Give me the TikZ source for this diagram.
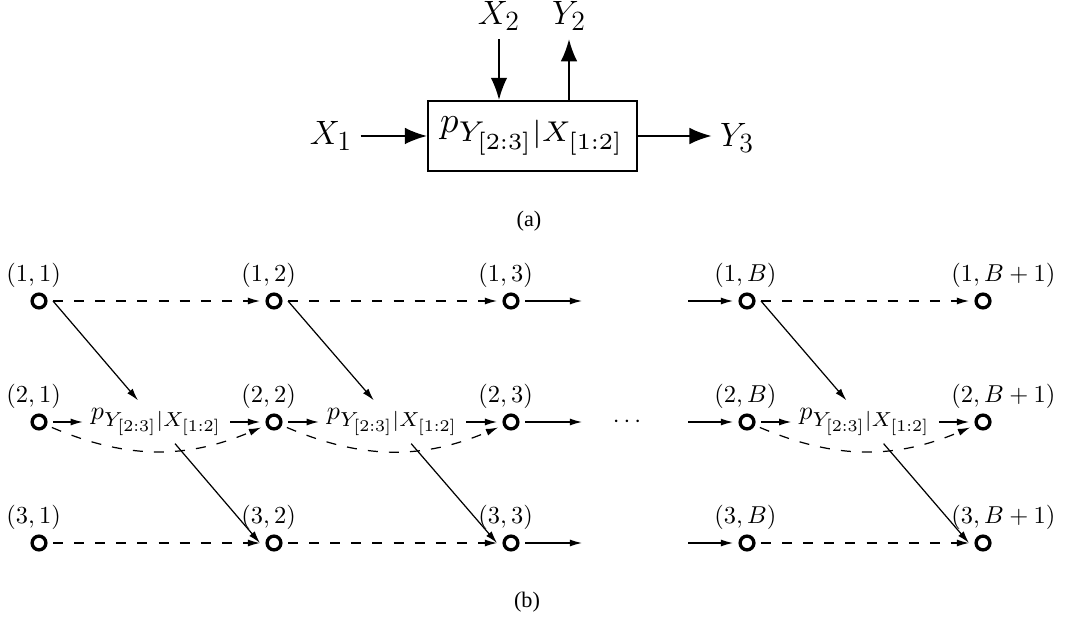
\RequirePackage{fix-cm}
\documentclass[tikz,border=0pt]{standalone}
\usepackage{graphicx}
\usepackage[no-math]{fontspec}
\newfontfamily\capfont{Liberation Serif}
\usetikzlibrary{arrows.meta}
\DeclareMathSizes{15.2}{15.2}{12.5}{10}
\DeclareMathSizes{10}{10}{7.8}{6.3}
\newcommand{\pch}{p_{Y_{[2:3]}|X_{[1:2]}}}
\tikzset{
  dot/.style={circle, draw, line width=1.5pt, minimum size=6.2pt, inner sep=0pt, outer sep=3.2pt},
  coordlab/.style={anchor=base west, inner sep=0pt, font=\fontsize{11}{13}\selectfont},
  plab/.style={inner sep=3.5pt, font=\fontsize{10}{12}\selectfont},
  arr/.style={-{Latex[length=5.5pt,width=3.2pt]}, line width=0.55pt},
  darr/.style={arr, dash pattern=on 4.5pt off 5pt},
  bigarr/.style={-{Latex[length=10pt,width=7.5pt]}, line width=0.9pt},
  biglab/.style={inner sep=3.6pt, font=\fontsize{15.2}{18}\selectfont},
  caplab/.style={inner sep=0pt, font={\capfont\fontsize{10}{12}\selectfont}}
}
\begin{document}
\begin{tikzpicture}[x=0.45pt,y=-0.45pt]
\useasboundingbox (0,0) rectangle (1067,621);

% ---------- (a) ----------
\node[draw, line width=0.9pt, minimum width=94pt, minimum height=31.5pt, inner sep=0pt,
      font=\fontsize{10}{12}\selectfont] (box) at (532.5,136) {\scalebox{1.65}{$\pch$}};
\node[biglab] (X1) at (331,136) {$X_1$};
\node[biglab] (Y3) at (737,138) {$Y_3$};
\node[biglab] (X2) at (499,16) {$X_2$};
\node[biglab] (Y2) at (569,16) {$Y_2$};
\draw[bigarr] (X1) -- (box);
\draw[bigarr] (box) -- (box -| Y3.west);
\draw[bigarr] (X2) -- (X2 |- box.north);
\draw[bigarr] (box.north -| Y2) -- (Y2);
\node[caplab] (capa) at (529,221) {(a)};

% ---------- (b) ----------
% circles
\node[dot] (c11) at (39,301) {};
\node[dot] (c12) at (274,301) {};
\node[dot] (c13) at (511,301) {};
\node[dot] (c1B) at (747,301) {};
\node[dot] (c1E) at (983,301) {};
\node[dot] (c21) at (39,422) {};
\node[dot] (c22) at (274,422) {};
\node[dot] (c23) at (511,422) {};
\node[dot] (c2B) at (747,422) {};
\node[dot] (c2E) at (983,422) {};
\node[dot] (c31) at (39,543) {};
\node[dot] (c32) at (274,543) {};
\node[dot] (c33) at (511,543) {};
\node[dot] (c3B) at (747,543) {};
\node[dot] (c3E) at (983,543) {};
% labels
\node[coordlab] (l11) at (6,282) {$(1,1)$};
\node[coordlab] (l12) at (241,282) {$(1,2)$};
\node[coordlab] (l13) at (478,282) {$(1,3)$};
\node[coordlab] (l1B) at (714,282) {$(1,B)$};
\node[coordlab] (l1E) at (951,282) {$(1,B+1)$};
\node[coordlab] (l21) at (6,403) {$(2,1)$};
\node[coordlab] (l22) at (241,403) {$(2,2)$};
\node[coordlab] (l23) at (478,403) {$(2,3)$};
\node[coordlab] (l2B) at (714,403) {$(2,B)$};
\node[coordlab] (l2E) at (951,403) {$(2,B+1)$};
\node[coordlab] (l31) at (6,524) {$(3,1)$};
\node[coordlab] (l32) at (241,524) {$(3,2)$};
\node[coordlab] (l33) at (478,524) {$(3,3)$};
\node[coordlab] (l3B) at (714,524) {$(3,B)$};
\node[coordlab] (l3E) at (951,524) {$(3,B+1)$};
% channel labels
\node[plab] (p1) at (156.5,422) {\scalebox{1.17}{$\pch$}};
\node[plab] (p2) at (392.5,422) {\scalebox{1.17}{$\pch$}};
\node[plab] (pB) at (865,422) {\scalebox{1.17}{$\pch$}};
\node[inner sep=0pt, font=\fontsize{11}{13}\selectfont] (dots) at (627,422) {$\cdots$};
% free ends
\coordinate (e1) at (582,301);
\coordinate (e2) at (582,422);
\coordinate (e3) at (582,543);
\coordinate (s1) at (688,301);
\coordinate (s2) at (688,422);
\coordinate (s3) at (688,543);

% row 1
\draw[darr] (c11) -- (c12);
\draw[darr] (c12) -- (c13);
\draw[arr] (c13) -- (e1);
\draw[arr] (s1) -- (c1B);
\draw[darr] (c1B) -- (c1E);
% row 2
\draw[arr] (c21) -- (p1);
\draw[arr] (p1) -- (c22);
\draw[darr] (c21) to[bend right=23] (c22);
\draw[arr] (c22) -- (p2);
\draw[arr] (p2) -- (c23);
\draw[darr] (c22) to[bend right=23] (c23);
\draw[arr] (c23) -- (e2);
\draw[arr] (s2) -- (c2B);
\draw[arr] (c2B) -- (pB);
\draw[arr] (pB) -- (c2E);
\draw[darr] (c2B) to[bend right=23] (c2E);
% row 3
\draw[darr] (c31) -- (c32);
\draw[darr] (c32) -- (c33);
\draw[arr] (c33) -- (e3);
\draw[arr] (s3) -- (c3B);
\draw[darr] (c3B) -- (c3E);
% diagonals
\draw[arr] (c11.east) -- (p1);
\draw[arr] (p1) -- (c32.west);
\draw[arr] (c12.east) -- (p2);
\draw[arr] (p2) -- (c33.west);
\draw[arr] (c1B.east) -- (pB);
\draw[arr] (pB) -- (c3E.west);

\node[caplab] (capb) at (527,602) {(b)};
\end{tikzpicture}
\end{document}
